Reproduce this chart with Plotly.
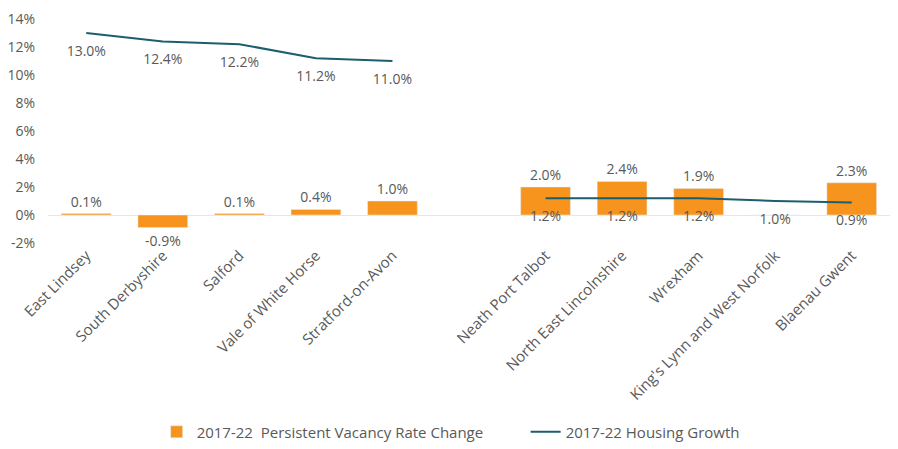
import plotly.graph_objects as go

categories = ["East Lindsey", "South Derbyshire", "Salford", "Vale of White Horse",
              "Stratford-on-Avon", " ", "Neath Port Talbot", "North East Lincolnshire",
              "Wrexham", "King's Lynn and West Norfolk", "Blaenau Gwent"]
vacancy_change = [0.1, -0.9, 0.1, 0.4, 1.0, None, 2.0, 2.4, 1.9, 0.0, 2.3]
vacancy_labels = ["0.1%", "-0.9%", "0.1%", "0.4%", "1.0%", "", "2.0%", "2.4%", "1.9%", "", "2.3%"]
housing_growth = [13.0, 12.4, 12.2, 11.2, 11.0, None, 1.2, 1.2, 1.2, 1.0, 0.9]
housing_labels = ["13.0%", "12.4%", "12.2%", "11.2%", "11.0%", "", "1.2%", "1.2%", "1.2%", "1.0%", "0.9%"]
y_ticks = [-2, 0, 2, 4, 6, 8, 10, 12, 14]
y_tick_labels = ["-2%", "0%", "2%", "4%", "6%", "8%", "10%", "12%", "14%"]

FONT = "Open Sans"
TXT = "#595959"

fig = go.Figure()
fig.add_trace(go.Bar(
    x=categories, y=vacancy_change, name="2017-22  Persistent Vacancy Rate Change",
    marker=dict(color="#F7941D"), width=0.65,
    text=vacancy_labels, textposition="outside", cliponaxis=False,
    textfont=dict(family=FONT, size=14, color=TXT),
))
fig.add_trace(go.Scatter(
    x=categories, y=housing_growth, name="2017-22 Housing Growth",
    mode="lines+markers+text", line=dict(color="#1B5E6E", width=2),
    marker=dict(size=18, color="rgba(0,0,0,0)"),
    text=housing_labels, textposition="bottom center", connectgaps=False,
    textfont=dict(family=FONT, size=14, color=TXT), cliponaxis=False,
))

# page body has an 8px margin, so the figure is 890x441
fig.update_layout(
    width=890, height=441,
    margin=dict(l=40, r=8, t=11, b=206, autoexpand=False),
    plot_bgcolor="white", paper_bgcolor="white",
    font=dict(family=FONT, size=14, color=TXT),
    showlegend=True,
    legend=dict(orientation="h", xref="container", yref="container",
                x=0.167, xanchor="left", y=0.0385, yanchor="middle",
                itemwidth=30, entrywidth=324,
                font=dict(family=FONT, size=15, color=TXT), traceorder="normal"),
    bargap=0.35,
)
fig.update_yaxes(range=[-2, 14], tickvals=y_ticks, ticktext=y_tick_labels, automargin=False,
                 showgrid=False, zeroline=True, zerolinecolor="#E6E6E6", zerolinewidth=1,
                 showline=False, ticks="", ticklabelstandoff=12, ticklabeloverflow="allow",
                 tickfont=dict(family=FONT, size=14, color=TXT))
fig.update_xaxes(type="category", range=[-0.5, len(categories) - 0.5], tickangle=-45,
                 showgrid=False, showline=False, ticks="",
                 automargin=False, tickfont=dict(family=FONT, size=15, color=TXT))

fig.write_html("out.html")
